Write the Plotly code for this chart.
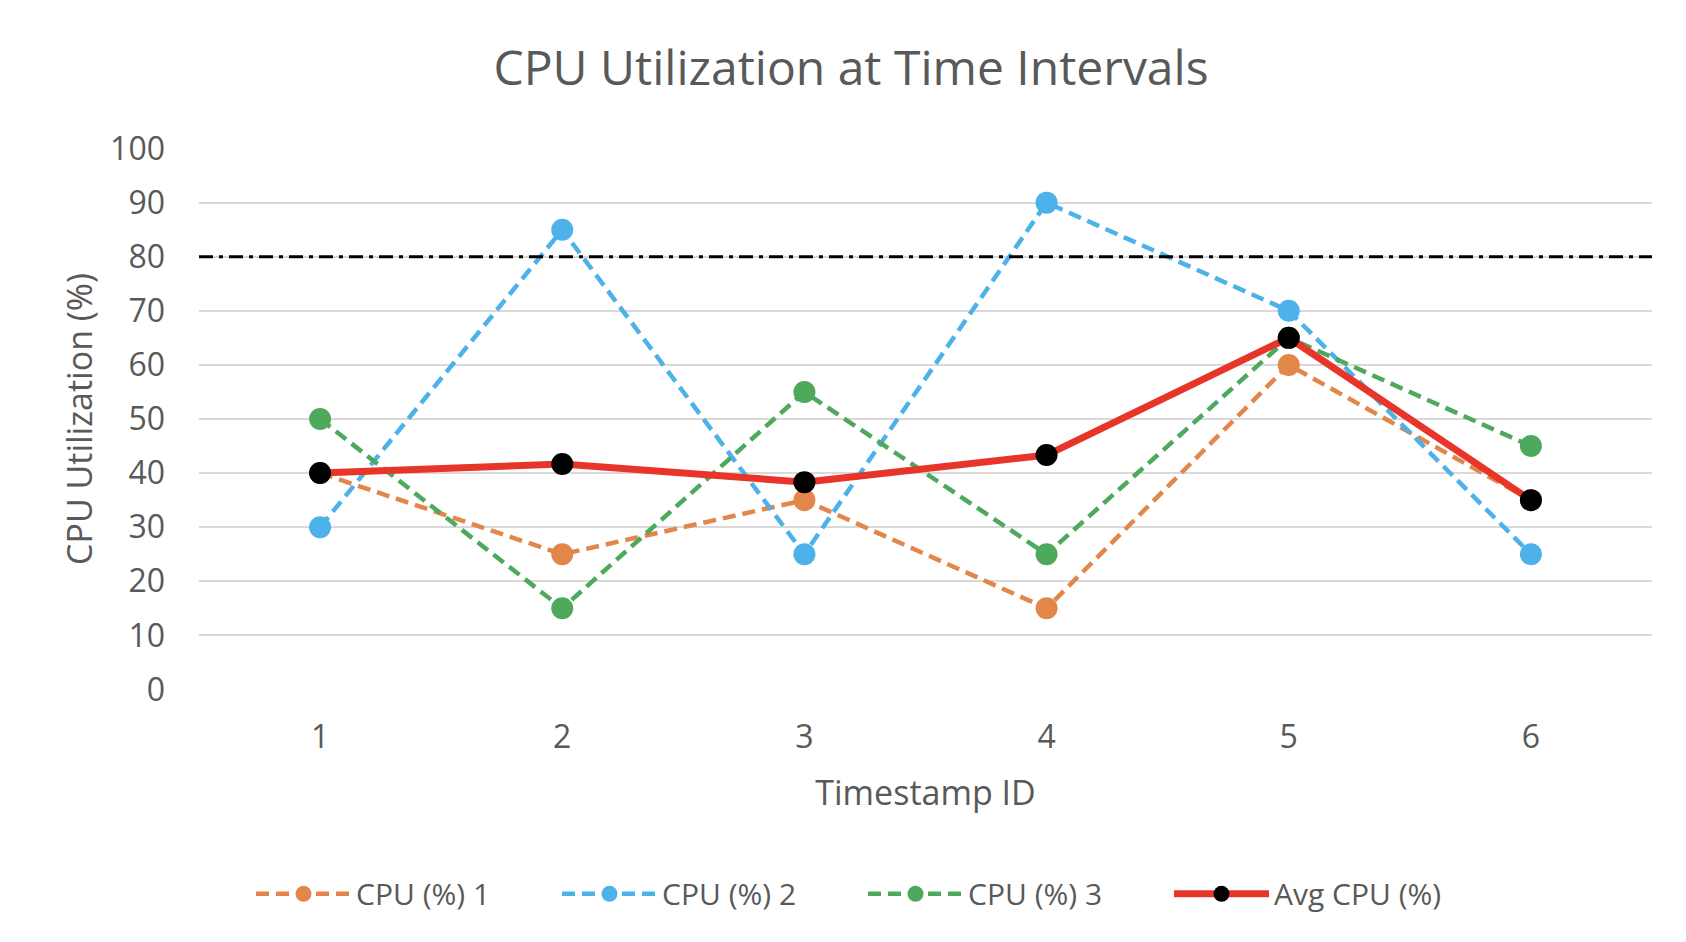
import plotly.graph_objects as go

timestamps = ["1", "2", "3", "4", "5", "6"]
cpu1 = [40, 25, 35, 15, 60, 35]
cpu2 = [30, 85, 25, 90, 70, 25]
cpu3 = [50, 15, 55, 25, 65, 45]
avg_cpu = [40, 41.67, 38.33, 43.33, 65, 35]
threshold = 80
y_ticks = [0, 10, 20, 30, 40, 50, 60, 70, 80, 90, 100]

names = ["CPU (%) 1", "CPU (%) 2", "CPU (%) 3"]
colors = ["#E3864A", "#4DB1EA", "#4FA95D"]
txt = "#595959"
font_family = "Open Sans"

fig = go.Figure()
for name, vals, c in zip(names, [cpu1, cpu2, cpu3], colors):
    fig.add_trace(go.Scatter(x=timestamps, y=vals, name=name, mode="lines+markers",
                             line=dict(color=c, width=4.5, dash="13px,7px"),
                             marker=dict(color=c, size=22)))

fig.add_trace(go.Scatter(x=timestamps, y=avg_cpu, name="Avg CPU (%)", mode="lines+markers",
                         line=dict(color="#E8352A", width=7),
                         marker=dict(color="black", size=22)))

# threshold line, not in legend
fig.add_hline(y=threshold, line=dict(color="black", width=3, dash="14px,6px,4px,6px"))

fig.update_layout(
    width=1686, height=942,
    margin=dict(l=191, r=42, t=140, b=260),
    paper_bgcolor="white", plot_bgcolor="white",
    font=dict(family=font_family, size=22, color=txt),
    title=dict(text="CPU Utilization at Time Intervals", x=0.5, xanchor="center",
               y=1 - 60 / 942, yanchor="middle", font=dict(size=48, color=txt)),
    showlegend=True,
    legend=dict(orientation="h", x=0.457, xanchor="center",
                y=-0.376, yanchor="middle", itemwidth=95, entrywidth=196,
                font=dict(size=30, color=txt), traceorder="normal"),
)

fig.update_xaxes(type="category", range=[-0.5, 5.5], showgrid=False, showline=False,
                 zeroline=False, ticks="", ticklabelstandoff=25,
                 tickfont=dict(size=32, color=txt),
                 title=dict(text="Timestamp ID", standoff=25, font=dict(size=34, color=txt)))
fig.update_yaxes(range=[-0.1, 100.1], tickvals=y_ticks, showgrid=True, gridcolor="#D9D9D9",
                 gridwidth=2, zeroline=False, showline=False, ticks="", ticklabelstandoff=33,
                 tickfont=dict(size=32, color=txt),
                 title=dict(text="CPU Utilization (%)", standoff=7, font=dict(size=34, color=txt)))

fig.write_html("out.html")
